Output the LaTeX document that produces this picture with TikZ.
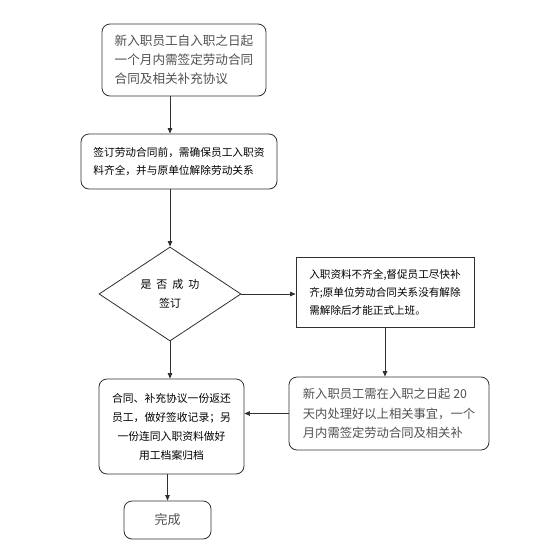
\documentclass[tikz,border=0pt]{standalone}
\usepackage{fontspec}
\newfontfamily\cjk{Noto Sans CJK SC}
\usetikzlibrary{shapes.geometric,arrows.meta}
\definecolor{txtgray}{HTML}{505050}
\definecolor{linegray}{HTML}{303030}
\tikzset{
  rbox/.style={draw=linegray, line width=0.8pt, rounded corners=8pt, inner sep=0pt, font=\cjk},
  sbox/.style={draw=linegray, line width=0.8pt, inner sep=0pt, font=\cjk},
  dec/.style={draw=linegray, line width=0.8pt, diamond, inner sep=0pt, font=\cjk},
  conn/.style={draw=linegray, line width=0.8pt, -{Triangle[length=5.5pt,width=4.5pt]}},
}
\begin{document}
\begin{tikzpicture}[x=1pt,y=-1pt]
\useasboundingbox (0,0) rectangle (535,550);
\node[rbox, minimum width=164pt, minimum height=72pt, align=left, text=txtgray,
  font=\cjk\fontsize{12.6}{19}\selectfont] (b1) at (184,60)
  {新入职员工自入职之日起\\一个月内需签定劳动合同\\合同及相关补充协议};
\node[rbox, minimum width=196pt, minimum height=55pt, align=left,
  font=\cjk\fontsize{10.7}{18}\selectfont] (b2) at (179,161.5)
  {签订劳动合同前，需确保员工入职资\\料齐全，并与原单位解除劳动关系};
\node[dec, minimum width=142pt, minimum height=94pt, align=center,
  font=\cjk\fontsize{11}{19}\selectfont] (d) at (170,294)
  {是\hspace{5pt}否\hspace{5pt}成\hspace{5pt}功\\签订};
\node[sbox, minimum width=178pt, minimum height=70pt, align=left,
  font=\cjk\fontsize{10.6}{18}\selectfont] (b3) at (385,292)
  {入职资料不齐全,督促员工尽快补\\齐;原单位劳动合同关系没有解除\\需解除后才能正式上班。};
\node[rbox, minimum width=200pt, minimum height=73pt, align=left, text=txtgray,
  font=\cjk\fontsize{12.3}{19.5}\selectfont] (b4) at (389,413.5)
  {新入职员工需在入职之日起 20\\天内处理好以上相关事宜，一个\\月内需签定劳动合同及相关补};
\node[rbox, minimum width=145pt, minimum height=95pt, align=center,
  font=\cjk\fontsize{10.8}{19}\selectfont] (b5) at (171.5,426.5)
  {合同、补充协议一份返还\\员工，做好签收记录；另\\一份连同入职资料做好\\用工档案归档};
\node[rbox, minimum width=87pt, minimum height=38pt, text=txtgray,
  font=\cjk\fontsize{13}{16}\selectfont] (b6) at (167.5,520)
  {完成};
\draw[conn] (b1.south -| d.north) -- (b2.north -| d.north);
\draw[conn] (b2.south -| d.north) -- (d.north);
\draw[conn] (d.east) -- (d.east -| b3.west);
\draw[conn] (b3.south) -- (b3.south |- b4.north);
\draw[conn] (b4.west) -- (b4.west -| b5.east);
\draw[conn] (d.south) -- (d.south |- b5.north);
\draw[conn] (b5.south -| b6.north) -- (b6.north);
\end{tikzpicture}
\end{document}
